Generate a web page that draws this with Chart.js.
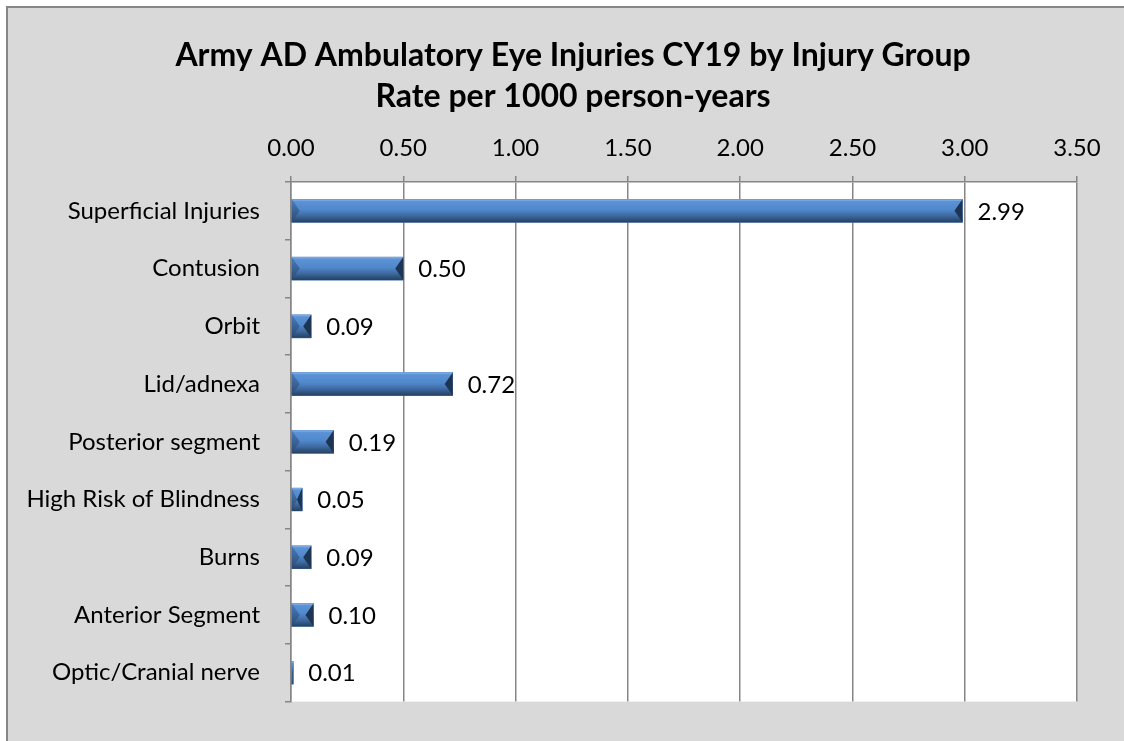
<!DOCTYPE html>
<html>
<head>
<meta charset="utf-8">
<script src="https://cdn.jsdelivr.net/npm/chart.js@4"></script>
<style>
  html, body { margin: 0; padding: 0; background: #ffffff; }
  #wrap { width: 1124px; height: 741px; position: relative; }
</style>
</head>
<body>
<div id="wrap"><canvas id="grafico" width="1124" height="741"></canvas></div>
<script>
var tituloLinhas = ['Army AD Ambulatory Eye Injuries CY19 by Injury Group', 'Rate per 1000 person-years'];
var categorias = ['Superficial Injuries', 'Contusion', 'Orbit', 'Lid/adnexa', 'Posterior segment',
    'High Risk of Blindness', 'Burns', 'Anterior Segment', 'Optic/Cranial nerve'];
var taxas = [2.99, 0.50, 0.09, 0.72, 0.19, 0.05, 0.09, 0.10, 0.01];
var eixoMin = 0;
var eixoMax = 3.5;
var eixoPasso = 0.5;

var fonte = 'Lato, "Open Sans", sans-serif';
var corLinha = '#868686';
var espessuraBarra = 23;

// fundo cinza, borda externa e area branca do grafico
var pluginFundo = {
    id: 'fundo',
    beforeDraw: function (chart) {
        var ctx = chart.ctx;
        var area = chart.chartArea;
        ctx.save();
        ctx.fillStyle = '#ffffff';
        ctx.fillRect(0, 0, chart.width, chart.height);
        ctx.fillStyle = '#d9d9d9';
        ctx.fillRect(7, 7, chart.width - 7, chart.height - 7);
        ctx.strokeStyle = corLinha;
        ctx.lineWidth = 2;
        ctx.beginPath();
        ctx.moveTo(7, chart.height);
        ctx.lineTo(7, 7);
        ctx.lineTo(chart.width, 7);
        ctx.stroke();
        ctx.fillStyle = '#ffffff';
        ctx.fillRect(area.left, area.top, area.right - area.left, area.bottom - area.top);
        ctx.restore();
    }
};

// titulo em duas linhas
var pluginTitulo = {
    id: 'titulo',
    afterDraw: function (chart) {
        var ctx = chart.ctx;
        ctx.save();
        ctx.fillStyle = '#000000';
        ctx.font = 'bold 32px ' + fonte;
        ctx.textAlign = 'center';
        ctx.textBaseline = 'middle';
        ctx.fillText(tituloLinhas[0], 573, 56);
        ctx.fillText(tituloLinhas[1], 573, 97);
        ctx.restore();
    }
};

// efeito de chanfro nas barras e rotulos de valor
var pluginBarras = {
    id: 'barras',
    afterDatasetsDraw: function (chart) {
        var ctx = chart.ctx;
        var meta = chart.getDatasetMeta(0);
        ctx.save();
        meta.data.forEach(function (bar, i) {
            var p = bar.getProps(['x', 'y', 'base', 'height'], true);
            var topo = p.y - p.height / 2;
            var baixo = p.y + p.height / 2;
            var ini = Math.min(p.base, p.x);
            var fim = Math.max(p.base, p.x);
            var b = Math.min(8, (fim - ini) / 2);

            var g = ctx.createLinearGradient(0, topo, 0, baixo);
            g.addColorStop(0, '#5f94d8');
            g.addColorStop(0.45, '#5088cc');
            g.addColorStop(0.7, '#3f6ba3');
            g.addColorStop(1, '#24405f');
            ctx.fillStyle = g;
            ctx.fillRect(ini, topo, fim - ini, baixo - topo);

            // friso claro no topo
            ctx.fillStyle = '#7aa8e0';
            ctx.fillRect(ini, topo, fim - ini, 1.5);

            // cunha da esquerda
            var gE = ctx.createLinearGradient(0, topo, 0, baixo);
            gE.addColorStop(0, '#4a7cbc');
            gE.addColorStop(1, '#2a4a72');
            ctx.fillStyle = gE;
            ctx.beginPath();
            ctx.moveTo(ini, topo); ctx.lineTo(ini + b, p.y); ctx.lineTo(ini, baixo);
            ctx.closePath(); ctx.fill();

            // cunha da direita
            ctx.fillStyle = '#1d3452';
            ctx.beginPath();
            ctx.moveTo(fim, topo); ctx.lineTo(fim - b, p.y); ctx.lineTo(fim, baixo);
            ctx.closePath(); ctx.fill();

            ctx.fillStyle = '#000000';
            ctx.font = '24px ' + fonte;
            ctx.textAlign = 'left';
            ctx.textBaseline = 'middle';
            ctx.fillText(taxas[i].toFixed(2), fim + 15, p.y + 1);
        });
        ctx.restore();
    }
};

var ctxGrafico = document.getElementById('grafico').getContext('2d');

var configGrafico = {
    type: 'bar',
    data: {
        labels: categorias,
        datasets: [{
            data: taxas,
            backgroundColor: '#4f81bd',
            borderWidth: 0,
            barThickness: espessuraBarra
        }]
    },
    options: {
        indexAxis: 'y',
        responsive: false,
        animation: false,
        layout: { padding: { left: 8, top: 120, right: 47, bottom: 27 } },
        plugins: {
            legend: { display: false },
            title: { display: false },
            tooltip: { enabled: false }
        },
        scales: {
            x: {
                position: 'top',
                min: eixoMin,
                max: eixoMax,
                ticks: {
                    stepSize: eixoPasso,
                    color: '#000000',
                    font: { family: fonte, size: 24 },
                    padding: 13,
                    callback: function (v) { return Number(v).toFixed(2); }
                },
                grid: { color: corLinha, tickLength: 6, lineWidth: 1.5 },
                border: { color: corLinha, width: 1.5 },
                afterFit: function (scale) { scale.height = 62; }
            },
            y: {
                ticks: {
                    color: '#000000',
                    font: { family: fonte, size: 24 },
                    padding: 25
                },
                grid: { drawOnChartArea: false, offset: true, color: corLinha, tickLength: 6, lineWidth: 1.5 },
                border: { color: corLinha, width: 1.5 },
                afterFit: function (scale) { scale.width = 283; }
            }
        }
    },
    plugins: [pluginFundo, pluginTitulo, pluginBarras]
};

var grafico = new Chart(ctxGrafico, configGrafico);
</script>
</body>
</html>
